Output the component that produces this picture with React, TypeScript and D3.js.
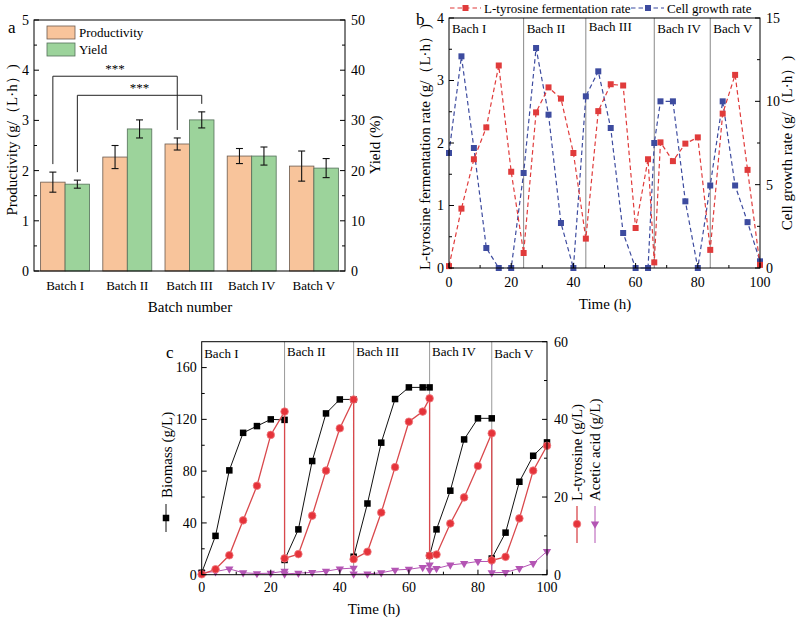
import React from "react";
import * as d3 from "d3";

const FONT = "'Liberation Serif', 'Times New Roman', serif";

// ---- panel a: batch productivity / yield ----
const batches = ["Batch I", "Batch II", "Batch III", "Batch IV", "Batch V"];
const productivity = [1.77, 2.27, 2.53, 2.29, 2.09];
const productivityErr = [0.2, 0.23, 0.12, 0.15, 0.3];
const yieldPct = [17.3, 28.3, 30.1, 22.9, 20.5];
const yieldErr = [0.8, 1.8, 1.6, 1.8, 1.9];
// significance brackets: batch index from / to, series, level on left axis
const brackets = [
  { from: 0, to: 2, series: "Productivity", level: 3.88 },
  { from: 0, to: 2, series: "Yield", level: 3.5 },
];

// ---- panel b: rates ----
const rateTime = [0, 4, 8, 12, 16, 20, 24, 28, 32, 36, 40, 44, 48, 52, 56, 60, 64, 66, 68, 72, 76, 80, 84, 88, 92, 96, 100];
const tyrosineRate = [0.03, 0.95, 1.74, 2.25, 3.24, 1.54, 0.24, 2.49, 2.89, 2.71, 1.84, 0.47, 2.51, 2.94, 2.92, 0.64, 1.74, 0.09, 2.01, 1.71, 1.99, 2.09, 0.29, 2.47, 3.09, 1.57, 0.05];
const growthRate = [6.9, 12.7, 7.2, 1.2, 0, 0, 5.7, 13.2, 9.2, 2.7, 0, 10.3, 11.8, 8.4, 2.1, 0, 0, 7.5, 10, 10, 4, 0, 4.95, 10, 4.95, 2.75, 0.4];

const batchBounds = [24, 44, 66, 84];
const batchLabels = ["Bach I", "Bach II", "Bach III", "Bach IV", "Bach V"];
const batchStarts = [0, 24, 44, 66, 84];

// ---- panel c: concentrations, one list per batch ----
const cTime = [
  [0, 4, 8, 12, 16, 20, 24],
  [24, 28, 32, 36, 40, 44],
  [44, 48, 52, 56, 60, 64, 66],
  [66, 68, 72, 76, 80, 84],
  [84, 88, 92, 96, 100],
];
const biomass = [
  [1.5, 30, 80.6, 109.6, 114.8, 120, 119.6],
  [11.4, 35, 87.8, 124.6, 135.4, 135.4],
  [13.9, 55, 102, 135.7, 144.7, 144.7, 144.7],
  [14.7, 35, 64.9, 104.5, 120.8, 120.8],
  [12.5, 32.5, 71.8, 91.9, 102.2],
];
const tyrosine = [
  [0.1, 1.4, 5, 14, 22.9, 36, 42],
  [4.2, 5.3, 15.2, 26.8, 37.7, 45.1],
  [4, 5.9, 16, 27.7, 39.4, 42, 45.4],
  [4.9, 5.2, 13.2, 19.9, 28, 36.4],
  [3.7, 4.6, 14.5, 26.8, 33.2],
];
const acetic = [
  [0.5, 0.8, 1.5, 0.5, 0.3, 0.4, 0.9],
  [0.2, 0.4, 0.6, 0.9, 1.5, 1.7],
  [0.2, 0.2, 0.5, 1.2, 1.4, 1.9, 2.5],
  [1.2, 1.6, 2.5, 2.9, 3.4, 3.4],
  [0.5, 0.6, 1.6, 2.9, 6],
];

const ORANGE = "#f8c49b";
const GREEN = "#9cd39b";
const RED_B = "#e03b3b";
const BLUE_B = "#3d4b9f";
const RED_C = "#e5333a";
const PURPLE = "#b455b4";

function YAxis({ scale, x, ticks, minor, side, offset, fontSize = 14 }: any) {
  const dir = side === "left" ? 1 : -1;
  return (
    <g>
      {minor.map((v: number) => (
        <line key={"m" + v} x1={x} x2={x + dir * 3} y1={scale(v)} y2={scale(v)} stroke="#000" />
      ))}
      {ticks.map((v: number) => (
        <g key={v}>
          <line x1={x} x2={x + dir * 5} y1={scale(v)} y2={scale(v)} stroke="#000" />
          <text x={x - dir * offset} y={scale(v)} dy="0.35em" fontSize={fontSize}
            textAnchor={side === "left" ? "end" : "start"}>{v}</text>
        </g>
      ))}
    </g>
  );
}

function XAxis({ scale, y, ticks, minor, offset, fontSize = 14 }: any) {
  return (
    <g>
      {minor.map((v: number) => (
        <line key={"m" + v} x1={scale(v)} x2={scale(v)} y1={y} y2={y - 3} stroke="#000" />
      ))}
      {ticks.map((v: number) => (
        <g key={v}>
          <line x1={scale(v)} x2={scale(v)} y1={y} y2={y - 5} stroke="#000" />
          <text x={scale(v)} y={y + offset} fontSize={fontSize} textAnchor="middle">{v}</text>
        </g>
      ))}
    </g>
  );
}

function PanelA() {
  const left = 34, right = 345, top = 20, bottom = 271;
  const x = d3.scaleBand().domain(batches).range([left, right]).padding(0);
  const sub = d3.scaleBand().domain(["Productivity", "Yield"]).range([0, x.bandwidth()]).paddingInner(0).paddingOuter(0.27);
  const yL = d3.scaleLinear().domain([0, 5]).range([bottom, top]);
  const yR = d3.scaleLinear().domain([0, 50]).range([bottom, top]);
  const bw = sub.bandwidth();
  const cx = (i: number, s: string) => (x(batches[i]) as number) + (sub(s) as number) + bw / 2;
  const errTop = (i: number, s: string) =>
    s === "Productivity" ? yL(productivity[i] + productivityErr[i]) : yR(yieldPct[i] + yieldErr[i]);

  return (
    <g>
      {batches.map((b, i) => (
        <g key={b}>
          <rect x={cx(i, "Productivity") - bw / 2} width={bw} y={yL(productivity[i])}
            height={bottom - yL(productivity[i])} fill={ORANGE} stroke="#6b5a4e" strokeWidth={0.8} />
          <rect x={cx(i, "Yield") - bw / 2} width={bw} y={yR(yieldPct[i])}
            height={bottom - yR(yieldPct[i])} fill={GREEN} stroke="#55705a" strokeWidth={0.8} />
          {[
            [cx(i, "Productivity"), yL(productivity[i] + productivityErr[i]), yL(productivity[i] - productivityErr[i])],
            [cx(i, "Yield"), yR(yieldPct[i] + yieldErr[i]), yR(yieldPct[i] - yieldErr[i])],
          ].map(([ex, y1, y2], k) => (
            <g key={k} stroke="#111" strokeWidth={1.1}>
              <line x1={ex} x2={ex} y1={y1} y2={y2} />
              <line x1={ex - 3.5} x2={ex + 3.5} y1={y1} y2={y1} />
              <line x1={ex - 3.5} x2={ex + 3.5} y1={y2} y2={y2} />
            </g>
          ))}
          <text x={x(b)! + x.bandwidth() / 2} y={bottom + 19} fontSize={13} textAnchor="middle">{b}</text>
        </g>
      ))}
      {brackets.map((br, i) => {
        const x1 = cx(br.from, br.series), x2 = cx(br.to, br.series), yy = yL(br.level);
        return (
          <g key={i}>
            <path d={`M${x1},${errTop(br.from, br.series) - 8}V${yy}H${x2}V${errTop(br.to, br.series) - 8}`}
              fill="none" stroke="#222" strokeWidth={1} />
            <text x={(x1 + x2) / 2} y={yy - 3} fontSize={13} textAnchor="middle">***</text>
          </g>
        );
      })}
      <rect x={left} y={top} width={right - left} height={bottom - top} fill="none" stroke="#000" strokeWidth={1} />
      <YAxis scale={yL} x={left} ticks={[0, 1, 2, 3, 4, 5]} minor={[0.5, 1.5, 2.5, 3.5, 4.5]} side="left" offset={5} />
      <YAxis scale={yR} x={right} ticks={[0, 10, 20, 30, 40, 50]} minor={[5, 15, 25, 35, 45]} side="right" offset={6} />
      {/* legend */}
      <rect x={47} y={26} width={28} height={13} fill={ORANGE} stroke="#6b5a4e" strokeWidth={0.8} />
      <text x={79} y={37} fontSize={13}>Productivity</text>
      <rect x={47} y={43} width={28} height={13} fill={GREEN} stroke="#55705a" strokeWidth={0.8} />
      <text x={79} y={54} fontSize={13}>Yield</text>
      <text x={8} y={33} fontSize={17}>a</text>
      <text x={190} y={312} fontSize={15} textAnchor="middle">Batch number</text>
      <text transform="translate(17,140) rotate(-90)" fontSize={15} textAnchor="middle">Productivity (g/（L·h）)</text>
      <text transform="translate(380,145) rotate(-90)" fontSize={15} textAnchor="middle">Yield (%)</text>
    </g>
  );
}

function PanelB() {
  const left = 449, right = 760, top = 18, bottom = 268;
  const x = d3.scaleLinear().domain([0, 100]).range([left, right]);
  const yL = d3.scaleLinear().domain([0, 4]).range([bottom, top]);
  const yR = d3.scaleLinear().domain([0, 15]).range([bottom, top]);
  const lineL = d3.line<number>().x((_, i) => x(rateTime[i])).y((d) => yL(d));
  const lineR = d3.line<number>().x((_, i) => x(rateTime[i])).y((d) => yR(d));
  const sq = 6;
  return (
    <g>
      {batchBounds.map((t) => (
        <line key={t} x1={x(t)} x2={x(t)} y1={top} y2={bottom} stroke="#888" strokeWidth={1} />
      ))}
      {batchLabels.map((l, i) => (
        <text key={l} x={x(batchStarts[i]) + 3} y={i === 2 ? 31 : 33} fontSize={13}>{l}</text>
      ))}
      <path d={lineR(growthRate)!} fill="none" stroke={BLUE_B} strokeWidth={1.2} strokeDasharray="4.5,3" />
      <path d={lineL(tyrosineRate)!} fill="none" stroke={RED_B} strokeWidth={1.2} strokeDasharray="4.5,3" />
      {growthRate.map((v, i) => (
        <rect key={"g" + i} x={x(rateTime[i]) - sq / 2} y={yR(v) - sq / 2} width={sq} height={sq} fill={BLUE_B} />
      ))}
      {tyrosineRate.map((v, i) => (
        <rect key={"t" + i} x={x(rateTime[i]) - sq / 2} y={yL(v) - sq / 2} width={sq} height={sq} fill={RED_B} />
      ))}
      <rect x={left} y={top} width={right - left} height={bottom - top} fill="none" stroke="#000" strokeWidth={1} />
      <YAxis scale={yL} x={left} ticks={[0, 1, 2, 3, 4]} minor={[0.5, 1.5, 2.5, 3.5]} side="left" offset={5} />
      <YAxis scale={yR} x={right} ticks={[0, 5, 10, 15]} minor={[2.5, 7.5, 12.5]} side="right" offset={6} />
      <XAxis scale={x} y={bottom} ticks={[0, 20, 40, 60, 80, 100]} minor={[10, 30, 50, 70, 90]} offset={19} />
      {/* legend */}
      <line x1={450} x2={481} y1={8} y2={8} stroke={RED_B} strokeWidth={1.2} strokeDasharray="4.5,3" />
      <rect x={465.5 - sq / 2} y={8 - sq / 2} width={sq} height={sq} fill={RED_B} />
      <text x={484} y={12.5} fontSize={13}>L-tyrosine fermentation rate</text>
      <line x1={631} x2={664} y1={8} y2={8} stroke={BLUE_B} strokeWidth={1.2} strokeDasharray="4.5,3" />
      <rect x={648 - sq / 2} y={8 - sq / 2} width={sq} height={sq} fill={BLUE_B} />
      <text x={667} y={12.5} fontSize={13}>Cell growth rate</text>
      <text x={416} y={25} fontSize={17}>b</text>
      <text x={605} y={309} fontSize={15} textAnchor="middle">Time (h)</text>
      <text transform="translate(430,147) rotate(-90)" fontSize={15} textAnchor="middle">L-tyrosine fermentation rate (g/（L·h）)</text>
      <text transform="translate(792,143) rotate(-90)" fontSize={15} textAnchor="middle">Cell growth rate (g/（L·h）)</text>
    </g>
  );
}

function PanelC() {
  const left = 201.7, right = 547, top = 341.7, bottom = 574.7;
  const x = d3.scaleLinear().domain([0, 100]).range([left, right]);
  const yL = d3.scaleLinear().domain([0, 180]).range([bottom, top]);
  const yR = d3.scaleLinear().domain([0, 60]).range([bottom, top]);
  const line = (ys: (v: number) => number) =>
    d3.line<[number, number]>().x((d) => x(d[0])).y((d) => ys(d[1]));
  const tyrPts: [number, number][] = tyrosine.flatMap((arr, b) => arr.map((v, i) => [cTime[b][i], v] as [number, number]));
  const acePts: [number, number][] = acetic.flatMap((arr, b) => arr.map((v, i) => [cTime[b][i], v] as [number, number]));
  const tri = d3.symbol().type(d3.symbolTriangle).size(30)();
  const sq = 6.5;
  return (
    <g>
      {batchBounds.map((t) => (
        <line key={t} x1={x(t)} x2={x(t)} y1={top} y2={bottom} stroke="#999" strokeWidth={1} />
      ))}
      {batchLabels.map((l, i) => (
        <text key={l} x={x(batchStarts[i]) + 2.5} y={i === 0 || i === 4 ? 358 : 356} fontSize={13}>{l}</text>
      ))}
      <path d={line(yR)(acePts)!} fill="none" stroke={PURPLE} strokeWidth={1} />
      {acePts.map((p, i) => (
        <path key={"a" + i} d={tri} transform={`translate(${x(p[0])},${yR(p[1])}) rotate(180)`} fill={PURPLE} />
      ))}
      {biomass.map((arr, b) => (
        <path key={"bl" + b} d={line(yL)(arr.map((v, i) => [cTime[b][i], v]))!} fill="none" stroke="#111" strokeWidth={1} />
      ))}
      {biomass.map((arr, b) =>
        arr.map((v, i) => (
          <rect key={`bm${b}-${i}`} x={x(cTime[b][i]) - sq / 2} y={yL(v) - sq / 2} width={sq} height={sq} fill="#000" />
        ))
      )}
      <path d={line(yR)(tyrPts)!} fill="none" stroke="#d9484c" strokeWidth={1.3} />
      {tyrPts.map((p, i) => (
        <circle key={"t" + i} cx={x(p[0])} cy={yR(p[1])} r={3.8} fill={RED_C} stroke="#f07a7f" strokeWidth={0.8} />
      ))}
      <rect x={left} y={top} width={right - left} height={bottom - top} fill="none" stroke="#000" strokeWidth={1} />
      <YAxis scale={yL} x={left} ticks={[0, 40, 80, 120, 160]} minor={[20, 60, 100, 140]} side="left" offset={5} />
      <YAxis scale={yR} x={right} ticks={[0, 20, 40, 60]} minor={[10, 30, 50]} side="right" offset={7} />
      <XAxis scale={x} y={bottom} ticks={[0, 20, 40, 60, 80, 100]} minor={[10, 30, 50, 70, 90]} offset={17} />
      <text x={166} y={358} fontSize={17}>c</text>
      <text x={374} y={614} fontSize={15} textAnchor="middle">Time (h)</text>
      {/* axis titles with series symbols */}
      <line x1={166} x2={166} y1={504} y2={532} stroke="#111" />
      <rect x={166 - sq / 2} y={518 - sq / 2} width={sq} height={sq} fill="#000" />
      <text transform="translate(172,498) rotate(-90)" fontSize={15}>Biomass (g/L)</text>
      <line x1={577} x2={577} y1={506} y2={543} stroke="#d9484c" strokeWidth={1.3} />
      <circle cx={577} cy={524} r={3.8} fill={RED_C} stroke="#f07a7f" strokeWidth={0.8} />
      <text transform="translate(582,501) rotate(-90)" fontSize={15}>L-tyrosine (g/L)</text>
      <line x1={595} x2={595} y1={506} y2={543} stroke={PURPLE} />
      <path d={tri} transform={`translate(595,524) rotate(180)`} fill={PURPLE} />
      <text transform="translate(600,501) rotate(-90)" fontSize={15}>Acetic acid (g/L)</text>
    </g>
  );
}

export default function App() {
  return (
    <svg width={800} height={619} viewBox="0 0 800 619"
      style={{ position: "absolute", left: 0, top: 0, background: "#fff" }}
      fontFamily={FONT} fill="#000">
      <rect width={800} height={619} fill="#fff" />
      <PanelA />
      <PanelB />
      <PanelC />
    </svg>
  );
}
